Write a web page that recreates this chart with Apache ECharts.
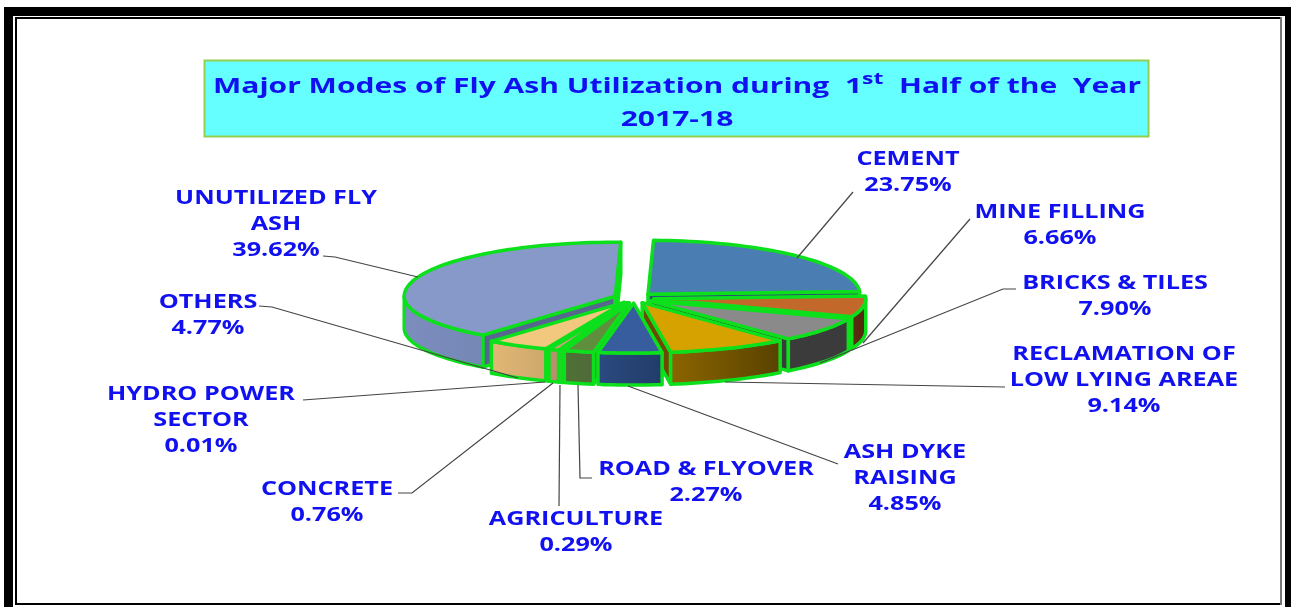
<!DOCTYPE html>
<html>
<head>
<meta charset="utf-8">
<title>Fly Ash Utilization</title>
<script src="https://cdn.jsdelivr.net/npm/echarts@6/dist/echarts.min.js"></script>
<style>
  html, body { margin: 0; padding: 0; background: #fff; }
  #main { width: 1292px; height: 607px; }
</style>
</head>
<body>
<div id="main"></div>
<script>
// data, clockwise from the top of the pie
var chartTitle = 'Major Modes of Fly Ash Utilization during  1{sup|st}  Half of the  Year\n2017-18';
var categories = ['CEMENT', 'MINE FILLING', 'BRICKS & TILES', 'RECLAMATION OF\nLOW LYING AREAE', 'ASH DYKE\nRAISING',
  'ROAD & FLYOVER', 'AGRICULTURE', 'CONCRETE', 'HYDRO POWER\nSECTOR', 'OTHERS', 'UNUTILIZED FLY\nASH'];
var values = [23.75, 6.66, 7.90, 9.14, 4.85, 2.27, 0.29, 0.76, 0.01, 4.77, 39.62];

// slice colours: top face, wall left, wall right, cut face
var topColors = ['#4A7DB1', '#C3682B', '#8A8A8A', '#D5A200', '#375D9F', '#5F8F3E', '#D89C7C', '#D89C7C', '#C8C8C8', '#F2C77E', '#8799C8'];
var wallLeft = ['#3A6690', '#5C2F10', '#3B3B3B', '#8C6500', '#2B4A80', '#4F7233', '#BF8C6E', '#BF8C6E', '#999999', '#E3B875', '#7C8DBE'];
var wallRight = ['#2F5578', '#4F280E', '#3B3B3B', '#584200', '#223C68', '#50693A', '#BF8C6E', '#BF8C6E', '#999999', '#CCA66C', '#7587B5'];
var cutColors = ['#2C4F73', '#5A2F12', '#3A3A3A', '#6E4A00', '#2B4A80', '#4F7233', '#B98468', '#B98468', '#999999', '#C9A468', '#56668F'];

// label layout: text centre x, first line y, leader line points
var labelLayout = [
  { x: 908, y: 159, line: [[797, 258], [853, 192]] },
  { x: 1060, y: 212, line: [[863, 343], [970, 219]] },
  { x: 1115, y: 283, line: [[820, 363], [1003, 289], [1016, 289]] },
  { x: 1124, y: 354, line: [[725, 382], [1005, 387]] },
  { x: 905, y: 452, line: [[628, 386], [838, 464]] },
  { x: 706, y: 469, line: [[578, 385], [580, 478], [592, 478]] },
  { x: 576, y: 519, line: [[560, 385], [559, 506]] },
  { x: 327, y: 489, line: [[553, 383], [412, 493], [398, 493]] },
  { x: 201, y: 394, line: [[545, 382], [303, 400]] },
  { x: 208, y: 302, line: [[518, 378], [272, 307], [259, 306]] },
  { x: 276, y: 198, line: [[418, 277], [335, 257], [323, 256]] }
];

var pieCx = 634, pieCy = 298, pieRxLeft = 211, pieRxRight = 212, pieRyBack = 54, pieRyFront = 50, pieDepth = 32, explode = 20, firstAngle = 1.5;
var edgeGreen = '#0CE01C';
var inkBlue = '#1010F0';
// the reference type is stretched sideways
var labelStretch = 1.26, titleStretch = 1.43;

var total = values.reduce(function (a, b) { return a + b; }, 0);
var slices = [];
var running = firstAngle;
values.forEach(function (v, i) {
  var sweep = v / total * 360;
  slices.push({ index: i, start: running, end: running + sweep, mid: running + sweep / 2 });
  running += sweep;
});
// paint from the back of the pie to the front
var drawOrder = slices.slice().sort(function (a, b) {
  return Math.cos(b.mid * Math.PI / 180) - Math.cos(a.mid * Math.PI / 180);
});

function arcPoint(s, deg, r, drop) {
  var a = deg * Math.PI / 180;
  var m = s.mid * Math.PI / 180;
  var ry = Math.cos(a) > 0 ? pieRyBack : pieRyFront;
  var rx = Math.sin(a) > 0 ? pieRxRight : pieRxLeft;
  return [
    pieCx + explode * Math.sin(m) + r * rx * Math.sin(a),
    pieCy - explode * pieRyBack / pieRxRight * Math.cos(m) - r * ry * Math.cos(a) + drop
  ];
}
function arcPoints(s, from, to, drop) {
  var pts = [];
  var n = Math.max(2, Math.ceil((to - from) / 2));
  for (var k = 0; k <= n; k++) {
    pts.push(arcPoint(s, from + (to - from) * k / n, 1, drop));
  }
  return pts;
}
function poly(pts, fill) {
  return {
    type: 'polygon',
    shape: { points: pts },
    style: { fill: fill, stroke: edgeGreen, lineWidth: 3.5, lineJoin: 'round' }
  };
}
function cutFace(s, deg, fill) {
  return poly([arcPoint(s, deg, 0, 0), arcPoint(s, deg, 1, 0), arcPoint(s, deg, 1, pieDepth), arcPoint(s, deg, 0, pieDepth)], fill);
}

function renderSlice(params, api) {
  var s = drawOrder[params.dataIndex];
  var i = s.index;
  var children = [];
  if (Math.sin(s.start * Math.PI / 180) < 0) children.push(cutFace(s, s.start, cutColors[i]));
  if (Math.sin(s.end * Math.PI / 180) > 0) children.push(cutFace(s, s.end, cutColors[i]));
  var wallFrom = Math.max(s.start, 90), wallTo = Math.min(s.end, 270);
  if (wallTo > wallFrom) {
    var wall = arcPoints(s, wallFrom, wallTo, 0).concat(arcPoints(s, wallFrom, wallTo, pieDepth).reverse());
    children.push(poly(wall, new echarts.graphic.LinearGradient(0, 0, 1, 0, [
      { offset: 0, color: wallLeft[i] },
      { offset: 1, color: wallRight[i] }
    ])));
  }
  children.push(poly([arcPoint(s, s.start, 0, 0)].concat(arcPoints(s, s.start, s.end, 0)), topColors[i]));
  return { type: 'group', children: children };
}

function renderLabel(params, api) {
  var i = params.dataIndex;
  var l = labelLayout[i];
  var text = categories[i] + '\n' + api.value(0).toFixed(2) + '%';
  return {
    type: 'group',
    children: [
      {
        type: 'polyline',
        shape: { points: l.line },
        style: { fill: null, stroke: '#444444', lineWidth: 1.2 }
      },
      {
        type: 'text',
        x: l.x,
        y: l.y - 13,
        scaleX: labelStretch,
        style: {
          text: text,
          fill: inkBlue,
          font: 'bold 20px "Open Sans"',
          lineHeight: 26.3,
          align: 'center',
          verticalAlign: 'top'
        }
      }
    ]
  };
}

function bar(x, y, w, h, color) {
  return { type: 'rect', silent: true, shape: { x: x, y: y, width: w, height: h }, style: { fill: color } };
}

var myChart = echarts.init(document.getElementById('main'), null, { renderer: 'canvas' });
myChart.setOption({
  backgroundColor: '#ffffff',
  animation: false,
  graphic: [
    // page frame
    bar(4, 7, 1287, 9, '#000000'),
    bar(4, 7, 9, 600, '#000000'),
    bar(1285, 7, 6, 600, '#000000'),
    bar(15, 17, 1267, 2, '#000000'),
    bar(15, 17, 2, 588, '#000000'),
    bar(15, 603, 1267, 2, '#000000'),
    bar(1280, 17, 2, 588, '#777777'),
    // title box
    {
      type: 'rect',
      silent: true,
      shape: { x: 204.5, y: 60.5, width: 944, height: 76 },
      style: { fill: '#66FFFF', stroke: '#92D050', lineWidth: 2 }
    },
    {
      type: 'text',
      silent: true,
      x: 677,
      y: 71,
      scaleX: titleStretch,
      style: {
        text: chartTitle,
        fill: inkBlue,
        font: 'bold 21px "Open Sans"',
        lineHeight: 33,
        align: 'center',
        verticalAlign: 'top',
        rich: {
          sup: { fill: inkBlue, font: 'bold 16px "Open Sans"', verticalAlign: 'top', lineHeight: 33, padding: [0, 0, 12, 0] }
        }
      }
    }
  ],
  series: [
    {
      type: 'custom',
      coordinateSystem: 'none',
      silent: true,
      renderItem: renderSlice,
      data: drawOrder.map(function (s) { return [values[s.index]]; })
    },
    {
      type: 'custom',
      coordinateSystem: 'none',
      silent: true,
      z: 3,
      renderItem: renderLabel,
      data: values.map(function (v) { return [v]; })
    }
  ]
});
</script>
</body>
</html>
